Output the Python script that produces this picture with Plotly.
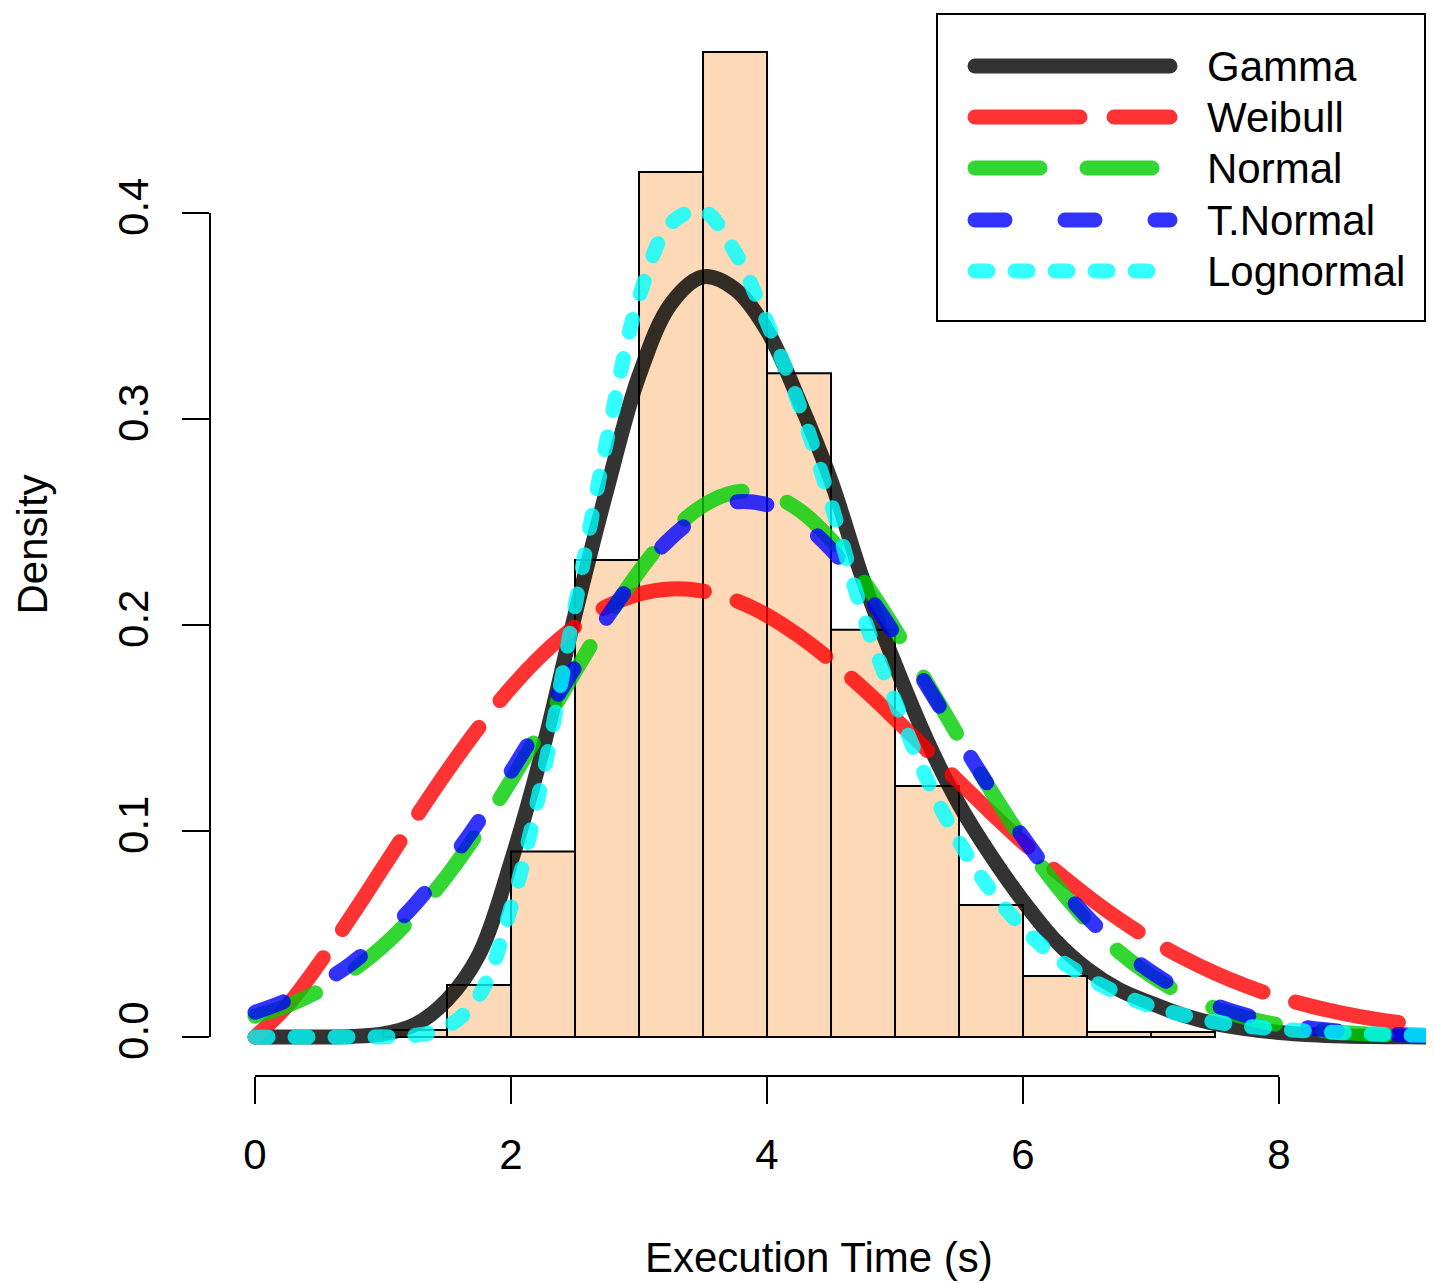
import plotly.graph_objects as go

# ---------------- data ----------------
bin_left = [1.0, 1.5, 2.0, 2.5, 3.0, 3.5, 4.0, 4.5, 5.0, 5.5, 6.0, 6.5, 7.0]
bin_width = 0.5
hist_density = [0.0034, 0.0252, 0.0900, 0.2316, 0.4199, 0.4782, 0.3222,
                0.1977, 0.1218, 0.0641, 0.0296, 0.0024, 0.0024]

x_grid = [0, 0.25, 0.5, 0.75, 1.0, 1.25, 1.5, 1.75, 2.0, 2.25, 2.5, 2.75,
          3.0, 3.25, 3.5, 3.75, 4.0, 4.25, 4.5, 4.75, 5.0, 5.25, 5.5, 5.75,
          6.0, 6.25, 6.5, 6.75, 7.0, 7.25, 7.5, 7.75, 8.0, 8.25, 8.5, 8.75,
          9.0, 9.14]

gamma_d = [0, 0, 0, 0.0003, 0.0015, 0.006, 0.018, 0.040, 0.085, 0.140,
           0.205, 0.266, 0.321, 0.356, 0.369, 0.363, 0.343, 0.309, 0.270,
           0.222, 0.181, 0.144, 0.113, 0.088, 0.066, 0.047, 0.033, 0.023,
           0.0164, 0.0106, 0.0065, 0.004, 0.0022, 0.0011, 0.0005, 0.0002,
           0.0001, 0.0]

weibull_d = [0, 0.0151, 0.0356, 0.0584, 0.0822, 0.106, 0.129, 0.1504,
             0.1696, 0.186, 0.1992, 0.209, 0.2151, 0.2175, 0.2164, 0.212,
             0.2047, 0.1947, 0.1827, 0.1692, 0.1545, 0.1393, 0.1239, 0.1089,
             0.0945, 0.0809, 0.0685, 0.0572, 0.0472, 0.0385, 0.031, 0.0246,
             0.0193, 0.015, 0.0115, 0.0087, 0.0065, 0.0055]

normal_d = [0.0101, 0.0152, 0.0223, 0.0318, 0.0441, 0.0596, 0.0783, 0.1002,
            0.1245, 0.1507, 0.1773, 0.2030, 0.2260, 0.2449, 0.2580, 0.2645,
            0.2638, 0.2559, 0.2415, 0.2217, 0.1980, 0.1720, 0.1454, 0.1195,
            0.0956, 0.0743, 0.0563, 0.0414, 0.0297, 0.0207, 0.0140, 0.0092,
            0.0059, 0.0037, 0.0022, 0.0013, 0.0008, 0.0006]

tnormal_d = [0.0120, 0.0178, 0.0255, 0.0356, 0.0486, 0.0645, 0.0834, 0.1050,
             0.1289, 0.1541, 0.1795, 0.2037, 0.2251, 0.2423, 0.2542, 0.2597,
             0.2584, 0.2506, 0.2367, 0.2178, 0.1952, 0.1704, 0.1450, 0.1201,
             0.0970, 0.0763, 0.0584, 0.0436, 0.0317, 0.0224, 0.0155, 0.0104,
             0.0068, 0.0043, 0.0027, 0.0016, 0.0010, 0.0007]

lognormal_d = [0, 0, 0, 0, 0.0001, 0.0008, 0.005, 0.020, 0.063, 0.127,
               0.209, 0.290, 0.359, 0.395, 0.401, 0.381, 0.347, 0.307, 0.259,
               0.205, 0.163, 0.125, 0.095, 0.071, 0.053, 0.039, 0.029, 0.021,
               0.015, 0.0107, 0.0073, 0.0052, 0.0038, 0.0028, 0.0021, 0.0014,
               0.0010, 0.0008]

series_names = ["Gamma", "Weibull", "Normal", "T.Normal", "Lognormal"]
series_vals = [gamma_d, weibull_d, normal_d, tnormal_d, lognormal_d]
series_colors = ["rgba(0,0,0,0.8)", "rgba(255,0,0,0.8)", "rgba(0,205,0,0.8)",
                 "rgba(0,0,255,0.8)", "rgba(0,255,255,0.8)"]
series_dash = ["solid", "105px,34px", "65px,47px", "30px,60px", "13px,27px"]

x_ticks = [0, 2, 4, 6, 8]
y_ticks = [0.0, 0.1, 0.2, 0.3, 0.4]
y_tick_text = ["0.0", "0.1", "0.2", "0.3", "0.4"]

# ---------------- figure ----------------
FONT = "Liberation Sans, Arial, Helvetica, sans-serif"
LW = 15
BODY = 8                      # default page body margin
W, H = 1434 - BODY, 1283 - BODY
ML, MR, MT, MB = 210 - BODY, 6, 13 - BODY, 207

fig = go.Figure()

fig.add_trace(go.Bar(
    x=[b + bin_width / 2 for b in bin_left], y=hist_density, width=bin_width,
    marker=dict(color="#FDD9B7", line=dict(color="black", width=2)),
    showlegend=False, hoverinfo="skip"))

for name, vals, col, dash in zip(series_names, series_vals, series_colors, series_dash):
    fig.add_trace(go.Scatter(
        x=x_grid, y=vals, mode="lines", name=name,
        line=dict(color=col, width=LW, dash=dash, shape="spline", smoothing=1),
        showlegend=False, hoverinfo="skip"))

# ---- manual legend (pixel-space overlay axes, window pixels) ----
leg_rows = [66, 117, 168, 220, 271]
for name, col, dash, ry in zip(series_names, series_colors, series_dash, leg_rows):
    fig.add_trace(go.Scatter(
        x=[975, 1170], y=[ry, ry], mode="lines", xaxis="x2", yaxis="y2",
        line=dict(color=col, width=LW, dash=dash),
        showlegend=False, hoverinfo="skip"))
    fig.add_annotation(x=1205, y=ry, xref="x2", yref="y2", text=name,
                       showarrow=False, xanchor="left", yanchor="middle",
                       font=dict(family=FONT, size=42, color="black"))

fig.add_shape(type="rect", xref="x2", yref="y2", x0=937, x1=1425, y0=14, y1=321,
              line=dict(color="black", width=2), fillcolor="rgba(0,0,0,0)")

# axis lines in R style (only spanning tick range)
fig.add_shape(type="line", xref="x", yref="paper", x0=x_ticks[0], x1=x_ticks[-1],
              y0=0, y1=0, line=dict(color="black", width=2))
fig.add_shape(type="line", xref="paper", yref="y", x0=0, x1=0,
              y0=y_ticks[0], y1=y_ticks[-1], line=dict(color="black", width=2))

PH = 1076 - 13
PW = 1428 - 210
# axis titles
fig.add_annotation(x=0.5, y=(1076 - 1257) / PH, xref="paper", yref="paper",
                   text="Execution Time (s)", showarrow=False,
                   xanchor="center", yanchor="middle",
                   font=dict(family=FONT, size=42, color="black"))
fig.add_annotation(x=(32 - 210) / PW, y=0.5, xref="paper", yref="paper",
                   text="Density", showarrow=False, textangle=-90,
                   xanchor="center", yanchor="middle",
                   font=dict(family=FONT, size=42, color="black"))

fig.update_layout(
    width=W, height=H, autosize=False,
    margin=dict(l=ML, r=MR, t=MT, b=MB, pad=0),
    paper_bgcolor="white", plot_bgcolor="white",
    font=dict(family=FONT, size=42, color="black"),
    showlegend=False,
    xaxis=dict(range=[-0.3516, 9.164], showgrid=False, zeroline=False,
               showline=False, tickmode="array", tickvals=x_ticks,
               ticks="outside", ticklen=27, tickwidth=2, tickcolor="black",
               tickfont=dict(family=FONT, size=42, color="black"),
               ticklabelstandoff=15),
    yaxis=dict(range=[-0.01893, 0.4971], showgrid=False, zeroline=False,
               showline=False, tickmode="array", tickvals=y_ticks,
               ticktext=y_tick_text, tickangle=-90,
               ticks="outside", ticklen=27, tickwidth=2, tickcolor="black",
               tickfont=dict(family=FONT, size=42, color="black"),
               ticklabelstandoff=17),
    xaxis2=dict(range=[210, 1428], overlaying="x", anchor="y2", visible=False),
    yaxis2=dict(range=[1076, 13], overlaying="y", anchor="x2", visible=False),
)

post = """
document.querySelectorAll('.scatterlayer .js-line').forEach(function(p){
  p.style.strokeLinecap='round'; p.style.strokeLinejoin='round';
});
"""
fig.write_html("out.html", post_script=post)
